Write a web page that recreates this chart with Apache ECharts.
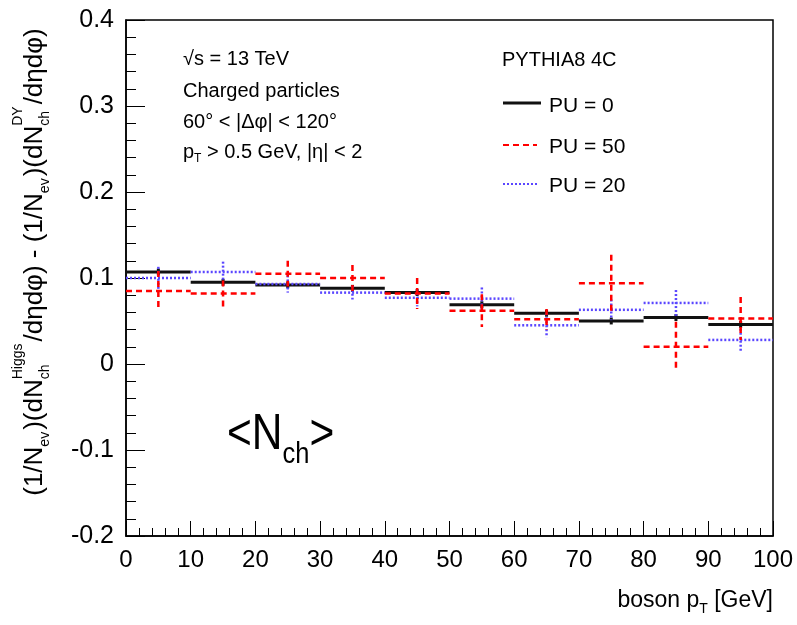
<!DOCTYPE html>
<html>
<head>
<meta charset="utf-8">
<script src="https://cdn.jsdelivr.net/npm/echarts@6/dist/echarts.min.js"></script>
<style>
  html, body { margin: 0; padding: 0; background: #fff; }
  #chart { width: 797px; height: 625px; }
</style>
</head>
<body>
<div id="chart"></div>
<script>
// bin edges of boson pT [GeV]
const binEdges = [0, 10, 20, 30, 40, 50, 60, 70, 80, 90, 100];

// PU = 0 (black solid)
const pu0 = [0.107, 0.095, 0.092, 0.088, 0.083, 0.069, 0.059, 0.050, 0.054, 0.046];
const pu0Err = [0.004, 0.004, 0.004, 0.004, 0.004, 0.004, 0.004, 0.004, 0.004, 0.004];

// PU = 50 (red dashed)
const pu50 = [0.085, 0.082, 0.105, 0.100, 0.082, 0.062, 0.052, 0.094, 0.020, 0.053];
const pu50Err = [0.023, 0.015, 0.015, 0.015, 0.018, 0.019, 0.012, 0.033, 0.029, 0.025];

// PU = 20 (blue dotted)
const pu20 = [0.100, 0.107, 0.093, 0.083, 0.077, 0.076, 0.045, 0.063, 0.071, 0.028];
const pu20Err = [0.013, 0.012, 0.010, 0.008, 0.010, 0.013, 0.014, 0.012, 0.015, 0.013];

const FONT = '"Liberation Sans", Arial, sans-serif';

const measureCtx = document.createElement("canvas").getContext("2d");
function textWidth(s, size) {
  measureCtx.font = size + "px " + FONT;
  return measureCtx.measureText(s).width;
}

function textEl(t, size, x, y, extra) {
  return Object.assign({
    type: "text",
    x: x,
    y: y,
    silent: true,
    style: {
      text: t,
      font: size + "px " + FONT,
      fill: "#000",
      align: "left",
      verticalAlign: "middle"
    }
  }, extra || {});
}

// lay out a row of text pieces (with sub/superscripts) left to right
function textRun(pieces) {
  let x = 0;
  const children = [];
  pieces.forEach((p) => {
    const stack = p.stack || [p];
    let w = 0;
    stack.forEach((s) => {
      children.push(textEl(s.t, s.size, x, s.dy || 0));
      w = Math.max(w, textWidth(s.t, s.size));
    });
    x += w + (p.gap || 0);
  });
  return { children: children, width: x };
}

function histData(vals, errs) {
  return vals.map((v, i) => [binEdges[i], binEdges[i + 1], v, errs[i]]);
}

function stepRenderer(color, width, dash) {
  return function (params, api) {
    const lo = api.value(0);
    const hi = api.value(1);
    const y = api.value(2);
    const e = api.value(3);
    const mid = (lo + hi) / 2;
    const a = api.coord([lo, y]);
    const b = api.coord([hi, y]);
    const t = api.coord([mid, y + e]);
    const d = api.coord([mid, y - e]);
    const style = { stroke: color, lineWidth: width, lineDash: dash };
    return {
      type: "group",
      children: [
        { type: "line", shape: { x1: a[0], y1: a[1], x2: b[0], y2: b[1] }, style: style },
        { type: "line", shape: { x1: t[0], y1: t[1], x2: d[0], y2: d[1] }, style: style }
      ]
    };
  };
}

const chart = echarts.init(document.getElementById("chart"), null, { renderer: "canvas" });

// y axis title, rotated
const ySub = 10, ySup = -17, yMain = 26, ySmall = 14;
const yTitle = textRun([
  { t: "(1/N", size: yMain },
  { t: "ev", size: ySmall, dy: ySub, gap: 2 },
  { t: ")(dN", size: yMain },
  { stack: [{ t: "ch", size: ySmall, dy: ySub }, { t: "Higgs", size: ySmall, dy: ySup }], gap: 2 },
  { t: "/d\u03b7d\u03c6) - (1/N", size: yMain },
  { t: "ev", size: ySmall, dy: ySub, gap: 2 },
  { t: ")(dN", size: yMain },
  { stack: [{ t: "ch", size: ySmall, dy: ySub }, { t: "DY", size: ySmall, dy: ySup }], gap: 2 },
  { t: "/d\u03b7d\u03c6)", size: yMain }
]);

// x axis title
const xTitle = textRun([
  { t: "boson p", size: 23 },
  { t: "T", size: 14, dy: 8 },
  { t: " [GeV]", size: 23 }
]);

const nchLabel = textRun([
  { t: "<N", size: 50 },
  { t: "ch", size: 30, dy: 20 },
  { t: ">", size: 50 }
]);

const ptLine = textRun([
  { t: "p", size: 20 },
  { t: "T", size: 12, dy: 7 },
  { t: " > 0.5 GeV, |\u03b7| < 2", size: 20 }
]);

const legendX1 = 503, legendX2 = 541, legendTextX = 549;

const option = {
  animation: false,
  grid: {
    left: 126, right: 24, top: 20, bottom: 89,
    show: true, borderColor: "#000", borderWidth: 1.5, backgroundColor: "transparent"
  },
  xAxis: {
    type: "value",
    min: 0, max: 100, interval: 10,
    axisLine: { show: true, onZero: false, lineStyle: { color: "#000", width: 1.5 } },
    axisTick: { show: true, inside: true, length: 15, lineStyle: { color: "#000", width: 1 } },
    minorTick: { show: true, splitNumber: 5, length: 8, lineStyle: { color: "#000", width: 1 } },
    splitLine: { show: false },
    axisLabel: { color: "#000", fontSize: 24, fontFamily: FONT, margin: 12 }
  },
  yAxis: {
    type: "value",
    min: -0.2, max: 0.4, interval: 0.1,
    axisLine: { show: true, onZero: false, lineStyle: { color: "#000", width: 1.5 } },
    axisTick: { show: true, inside: true, length: 19, lineStyle: { color: "#000", width: 1 } },
    minorTick: { show: true, splitNumber: 5, length: 10, lineStyle: { color: "#000", width: 1 } },
    splitLine: { show: false },
    axisLabel: {
      color: "#000", fontSize: 25, fontFamily: FONT, margin: 12,
      formatter: (v) => String(Math.round(v * 10) / 10)
    }
  },
  series: [
    {
      name: "PU = 0", type: "custom", clip: true,
      encode: { x: [0, 1], y: 2 },
      renderItem: stepRenderer("#111", 3, null),
      data: histData(pu0, pu0Err), z: 2
    },
    {
      name: "PU = 20", type: "custom", clip: true,
      encode: { x: [0, 1], y: 2 },
      renderItem: stepRenderer("#5a46ff", 2.5, [2, 2]),
      data: histData(pu20, pu20Err), z: 3
    },
    {
      name: "PU = 50", type: "custom", clip: true,
      encode: { x: [0, 1], y: 2 },
      renderItem: stepRenderer("#ff0000", 2.5, [6, 4]),
      data: histData(pu50, pu50Err), z: 4
    }
  ],
  graphic: [
    { type: "group", x: 35, y: 262 + yTitle.width / 2, rotation: Math.PI / 2, children: yTitle.children },
    { type: "group", x: 773 - xTitle.width, y: 601, children: xTitle.children },
    { type: "group", x: 227, y: 435, scaleX: 0.85, children: nchLabel.children },
    textEl("\u221as = 13 TeV", 20, 183, 59),
    textEl("Charged particles", 20, 183, 91),
    textEl("60\u00b0 < |\u0394\u03c6| < 120\u00b0", 20, 183, 122),
    { type: "group", x: 183, y: 152, children: ptLine.children },
    textEl("PYTHIA8 4C", 20, 502, 60),
    { type: "line", shape: { x1: legendX1, y1: 103, x2: legendX2, y2: 103 }, style: { stroke: "#111", lineWidth: 3 } },
    { type: "line", shape: { x1: legendX1, y1: 145, x2: legendX2 - 4, y2: 145 }, style: { stroke: "#ff0000", lineWidth: 2, lineDash: [6, 4] } },
    { type: "line", shape: { x1: legendX1, y1: 184, x2: legendX2 - 4, y2: 184 }, style: { stroke: "#5a46ff", lineWidth: 2, lineDash: [2, 2] } },
    textEl("PU = 0", 21, legendTextX, 106),
    textEl("PU = 50", 21, legendTextX, 147),
    textEl("PU = 20", 21, legendTextX, 186)
  ]
};

chart.setOption(option);
</script>
</body>
</html>
